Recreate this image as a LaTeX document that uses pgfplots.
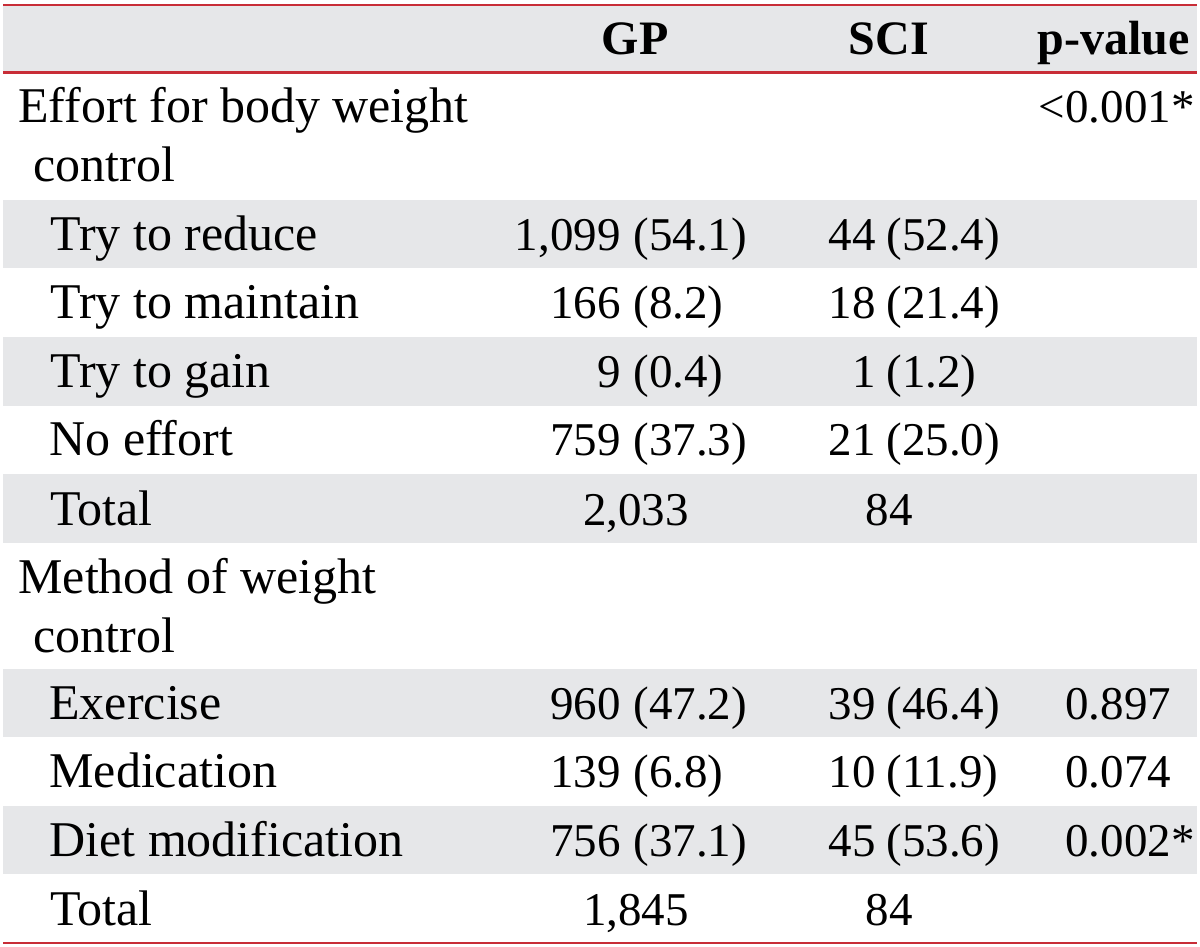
\documentclass[border=0pt]{standalone}
\usepackage{fontspec}
\setmainfont{Liberation Serif}
\usepackage{pgfplots}
\usepackage{pgfplotstable}
\pgfplotsset{compat=1.18}
\definecolor{bandgrey}{RGB}{230,231,233}
\definecolor{rulered}{RGB}{200,45,55}
\newcommand\txtfont{\fontsize{25}{30}\selectfont}
\newcommand\numfont{\fontsize{23.5}{28}\selectfont}
\newcommand\hdrfont{\fontsize{24}{28}\selectfont\bfseries}

% left column labels (x, baseline y in pixels from top)
\pgfplotstableread[col sep=semicolon]{
x;y;t
18;123;{Effort for body weight}
33;182;{control}
50;250;{Try to reduce}
50;318;{Try to maintain}
50;387;{Try to gain}
49;455;{No effort}
50;525;{Total}
18;593;{Method of weight}
33;652;{control}
49;719;{Exercise}
49;787;{Medication}
49;856;{Diet modification}
50;925;{Total}
}\leftcol

% counts (right-aligned) and percentages (left-aligned), GP and SCI
\pgfplotstableread[col sep=semicolon]{
x;y;t
621;250;{1,099}
621;318;{166}
621;387;{9}
621;455;{759}
621;719;{960}
621;787;{139}
621;856;{756}
876;250;{44}
876;318;{18}
876;387;{1}
876;455;{21}
876;719;{39}
876;787;{10}
876;856;{45}
}\counts

\pgfplotstableread[col sep=semicolon]{
x;y;t
633;250;{(54.1)}
633;318;{(8.2)}
633;387;{(0.4)}
633;455;{(37.3)}
633;719;{(47.2)}
633;787;{(6.8)}
633;856;{(37.1)}
886;250;{(52.4)}
886;318;{(21.4)}
886;387;{(1.2)}
886;455;{(25.0)}
886;719;{(46.4)}
886;787;{(11.9)}
886;856;{(53.6)}
}\percents

\pgfplotstableread[col sep=semicolon]{
x;y;t
636;525;{2,033}
889;525;{84}
636;925;{1,845}
889;925;{84}
}\totals

\pgfplotstableread[col sep=semicolon]{
x;y;t
1065;123;{\llap{<}0.001*}
1065;719;{0.897}
1065;787;{0.074}
1065;856;{0.002*}
}\pvals

\begin{document}
\begin{tikzpicture}
\begin{axis}[
  x=0.5pt, y=0.5pt, y dir=reverse,
  xmin=0, xmax=1200, ymin=0, ymax=947,
  hide axis, clip=false,
  point meta=explicit symbolic,
]
% bounding box
\addplot[draw=none, mark=none, forget plot] coordinates {(0,0) (1200,947)};
% grey bands
\addplot[fill=bandgrey, draw=none, mark=none] coordinates {(3,5) (1197,5) (1197,72) (3,72)};
\addplot[fill=bandgrey, draw=none, mark=none] coordinates {(3,200) (1197,200) (1197,268) (3,268)};
\addplot[fill=bandgrey, draw=none, mark=none] coordinates {(3,337) (1197,337) (1197,406) (3,406)};
\addplot[fill=bandgrey, draw=none, mark=none] coordinates {(3,474) (1197,474) (1197,543) (3,543)};
\addplot[fill=bandgrey, draw=none, mark=none] coordinates {(3,669) (1197,669) (1197,737) (3,737)};
\addplot[fill=bandgrey, draw=none, mark=none] coordinates {(3,806) (1197,806) (1197,874) (3,874)};
% red rules
\addplot[rulered, line width=1.3pt, mark=none] coordinates {(3,5) (1197,5)};
\addplot[rulered, line width=1.3pt, mark=none] coordinates {(3,72.5) (1197,72.5)};
\addplot[rulered, line width=1.3pt, mark=none] coordinates {(3,943) (1197,943)};
% header
\addplot[draw=none, mark=none, nodes near coords,
  every node near coord/.append style={anchor=base, inner sep=0pt, text=black, font=\hdrfont}]
  table[x=x, y=y, meta=t, col sep=semicolon] {
x;y;t
635;55;GP
889;55;SCI
};
\addplot[draw=none, mark=none, nodes near coords,
  every node near coord/.append style={anchor=base east, inner sep=0pt, text=black, font=\hdrfont}]
  table[x=x, y=y, meta=t, col sep=semicolon] {
x;y;t
1190;55;p-value
};
% left column
\addplot[draw=none, mark=none, nodes near coords,
  every node near coord/.append style={anchor=base west, inner sep=0pt, text=black, font=\txtfont}]
  table[x=x, y=y, meta=t] {\leftcol};
% counts
\addplot[draw=none, mark=none, nodes near coords,
  every node near coord/.append style={anchor=base east, inner sep=0pt, text=black, font=\numfont}]
  table[x=x, y=y, meta=t] {\counts};
% percents
\addplot[draw=none, mark=none, nodes near coords,
  every node near coord/.append style={anchor=base west, inner sep=0pt, text=black, font=\numfont}]
  table[x=x, y=y, meta=t] {\percents};
% totals
\addplot[draw=none, mark=none, nodes near coords,
  every node near coord/.append style={anchor=base, inner sep=0pt, text=black, font=\numfont}]
  table[x=x, y=y, meta=t] {\totals};
% p-values
\addplot[draw=none, mark=none, nodes near coords,
  every node near coord/.append style={anchor=base west, inner sep=0pt, text=black, font=\numfont}]
  table[x=x, y=y, meta=t] {\pvals};
\end{axis}
\end{tikzpicture}
\end{document}
